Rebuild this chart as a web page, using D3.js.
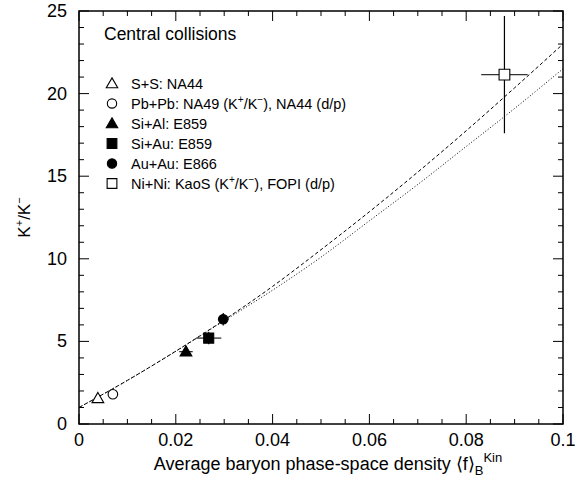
<!DOCTYPE html>
<html>
<head>
<meta charset="utf-8">
<script src="https://cdn.jsdelivr.net/npm/d3@7"></script>
<style>
  body { margin: 0; background: #fff; }
  svg { font-family: "Liberation Sans", Arial, sans-serif; }
</style>
</head>
<body>
<div id="chart"></div>
<script>
// data
var systems = ["S+S", "Pb+Pb", "Si+Al", "Si+Au", "Au+Au", "Ni+Ni"];
var legendText = ["S+S: NA44", "Pb+Pb: NA49 (K|+|/K|−|), NA44 (d/p)", "Si+Al: E859",
                  "Si+Au: E859", "Au+Au: E866", "Ni+Ni: KaoS (K|+|/K|−|), FOPI (d/p)"];
var symbolType = ["triangle", "circle", "triangle", "square", "circle", "square"];
var filled = [false, false, true, true, true, false];
var fB = [0.0039, 0.0070, 0.0221, 0.0268, 0.0298, 0.0879];
var ratio = [1.56, 1.80, 4.38, 5.20, 6.34, 21.15];
var fErr = [0, 0, 0.0014, 0.0026, 0.0011, 0.0048];
var ratioErr = [0, 0, 0.2, 0.37, 0.38, 3.55];

// model curves
var curveX = [0, 0.01, 0.02, 0.03, 0.04, 0.05, 0.06, 0.07, 0.08, 0.09, 0.1];
var dashedY = [1.0, 2.64, 4.41, 6.30, 8.33, 10.55, 12.85, 15.25, 17.75, 20.35, 23.0];
var dottedY = [1.0, 2.64, 4.40, 6.25, 8.10, 10.10, 12.30, 14.50, 16.80, 19.10, 21.5];

var xTicks = [0, 0.02, 0.04, 0.06, 0.08, 0.1];
var xTickLabels = ["0", "0.02", "0.04", "0.06", "0.08", "0.1"];
var yTicks = [0, 5, 10, 15, 20, 25];

var W = 588, H = 485;
var m = {left: 79, right: 25, top: 11, bottom: 61};

var svg = d3.select("#chart").append("svg")
    .attr("width", W).attr("height", H);

var x = d3.scaleLinear().domain([0, 0.1]).range([m.left, W - m.right]);
var y = d3.scaleLinear().domain([0, 25]).range([H - m.bottom, m.top]);

var g = svg.append("g");

// frame
g.append("rect")
    .attr("x", x(0)).attr("y", y(25))
    .attr("width", x(0.1) - x(0)).attr("height", y(0) - y(25))
    .attr("fill", "none").attr("stroke", "#000").attr("stroke-width", 1.5);

// ticks, all pointing inward
var xMinor = d3.range(0, 0.1001, 0.005);
var yMinor = d3.range(0, 25.01, 1);
function isMajorX(v) { return Math.abs(v / 0.02 - Math.round(v / 0.02)) < 1e-6; }
function isMajorY(v) { return v % 5 === 0; }

xMinor.forEach(function(v) {
  var len = isMajorX(v) ? 10 : 5;
  g.append("line").attr("x1", x(v)).attr("x2", x(v)).attr("y1", y(0)).attr("y2", y(0) - len)
      .attr("stroke", "#000");
  g.append("line").attr("x1", x(v)).attr("x2", x(v)).attr("y1", y(25)).attr("y2", y(25) + len)
      .attr("stroke", "#000");
});
yMinor.forEach(function(v) {
  var len = isMajorY(v) ? 10 : 5;
  g.append("line").attr("x1", x(0)).attr("x2", x(0) + len).attr("y1", y(v)).attr("y2", y(v))
      .attr("stroke", "#000");
  g.append("line").attr("x1", x(0.1)).attr("x2", x(0.1) - len).attr("y1", y(v)).attr("y2", y(v))
      .attr("stroke", "#000");
});

// tick labels
g.selectAll(".xl").data(xTicks).enter().append("text")
    .attr("x", function(d) { return x(d); })
    .attr("y", y(0) + 22)
    .attr("text-anchor", "middle")
    .attr("font-size", 18)
    .text(function(d, i) { return xTickLabels[i]; });

g.selectAll(".yl").data(yTicks).enter().append("text")
    .attr("x", x(0) - 12)
    .attr("y", function(d) { return y(d) + 6; })
    .attr("text-anchor", "end")
    .attr("font-size", 18)
    .text(function(d) { return d; });

// axis titles
var xt = svg.append("text")
    .attr("x", 328).attr("y", 470)
    .attr("text-anchor", "middle").attr("font-size", 18);
xt.append("tspan").text("Average baryon phase-space density \u27E8f\u27E9");
xt.append("tspan").attr("font-size", 13).attr("dy", 5).text("B");
xt.append("tspan").attr("font-size", 13).attr("dy", -13).text("Kin");

var yt = svg.append("text")
    .attr("transform", "translate(30," + ((y(0) + y(25)) / 2) + ") rotate(-90)")
    .attr("text-anchor", "middle").attr("font-size", 17);
yt.append("tspan").text("K");
yt.append("tspan").attr("font-size", 11).attr("dy", -7).text("+");
yt.append("tspan").attr("dy", 7).text("/K");
yt.append("tspan").attr("font-size", 11).attr("dy", -7).text("\u2212");

// curves
var line = d3.line()
    .x(function(d) { return x(d[0]); })
    .y(function(d) { return y(d[1]); })
    .curve(d3.curveMonotoneX);

g.append("path").datum(d3.zip(curveX, dottedY))
    .attr("d", line).attr("fill", "none")
    .attr("stroke", "#000").attr("stroke-width", 1).attr("stroke-dasharray", "1,2");
g.append("path").datum(d3.zip(curveX, dashedY))
    .attr("d", line).attr("fill", "none")
    .attr("stroke", "#000").attr("stroke-width", 1).attr("stroke-dasharray", "3.5,2.5");

// symbols
var symbolOf = { triangle: d3.symbolTriangle, circle: d3.symbolCircle, square: d3.symbolSquare };
var sizeOf = { triangle: 60, circle: 72, square: 100 };
function drawSymbol(parent, type, fill, cx, cy, scale) {
  var s = scale || 1;
  var dy = type === "triangle" ? 1 : 0;
  parent.append("path")
      .attr("d", d3.symbol().type(symbolOf[type]).size(sizeOf[type] * s)())
      .attr("transform", "translate(" + cx + "," + (cy + dy) + ")")
      .attr("fill", fill ? "#000" : "#fff")
      .attr("stroke", "#000").attr("stroke-width", 1.1);
}

// error bars then markers
systems.forEach(function(sys, i) {
  if (fErr[i] > 0) {
    g.append("line")
        .attr("x1", x(fB[i] - fErr[i])).attr("x2", x(fB[i] + fErr[i]))
        .attr("y1", y(ratio[i])).attr("y2", y(ratio[i]))
        .attr("stroke", "#333").attr("stroke-width", 1.3);
  }
  if (ratioErr[i] > 0) {
    g.append("line")
        .attr("x1", x(fB[i])).attr("x2", x(fB[i]))
        .attr("y1", y(ratio[i] - ratioErr[i])).attr("y2", y(ratio[i] + ratioErr[i]))
        .attr("stroke", "#000").attr("stroke-width", 1.2);
  }
});
systems.forEach(function(sys, i) {
  var sc = sys === "Ni+Ni" ? 1.15 : 1;
  drawSymbol(g, symbolType[i], filled[i], x(fB[i]), y(ratio[i]), sc);
});

// legend
var leg = svg.append("g");
leg.append("text").attr("x", 104).attr("y", 40).attr("font-size", 17.5).text("Central collisions");
legendText.forEach(function(t, i) {
  var cy = 83.5 + i * 20;
  drawSymbol(leg, symbolType[i], filled[i], 112, cy, 0.95);
  var tx = leg.append("text").attr("x", 131).attr("y", cy + 5).attr("font-size", 14.5);
  t.split("|").forEach(function(part, k) {
    if (k % 2 === 1) {
      tx.append("tspan").attr("font-size", 10).attr("dy", -5.5).text(part);
    } else {
      tx.append("tspan").attr("dy", k === 0 ? 0 : 5.5).text(part);
    }
  });
});
</script>
</body>
</html>
